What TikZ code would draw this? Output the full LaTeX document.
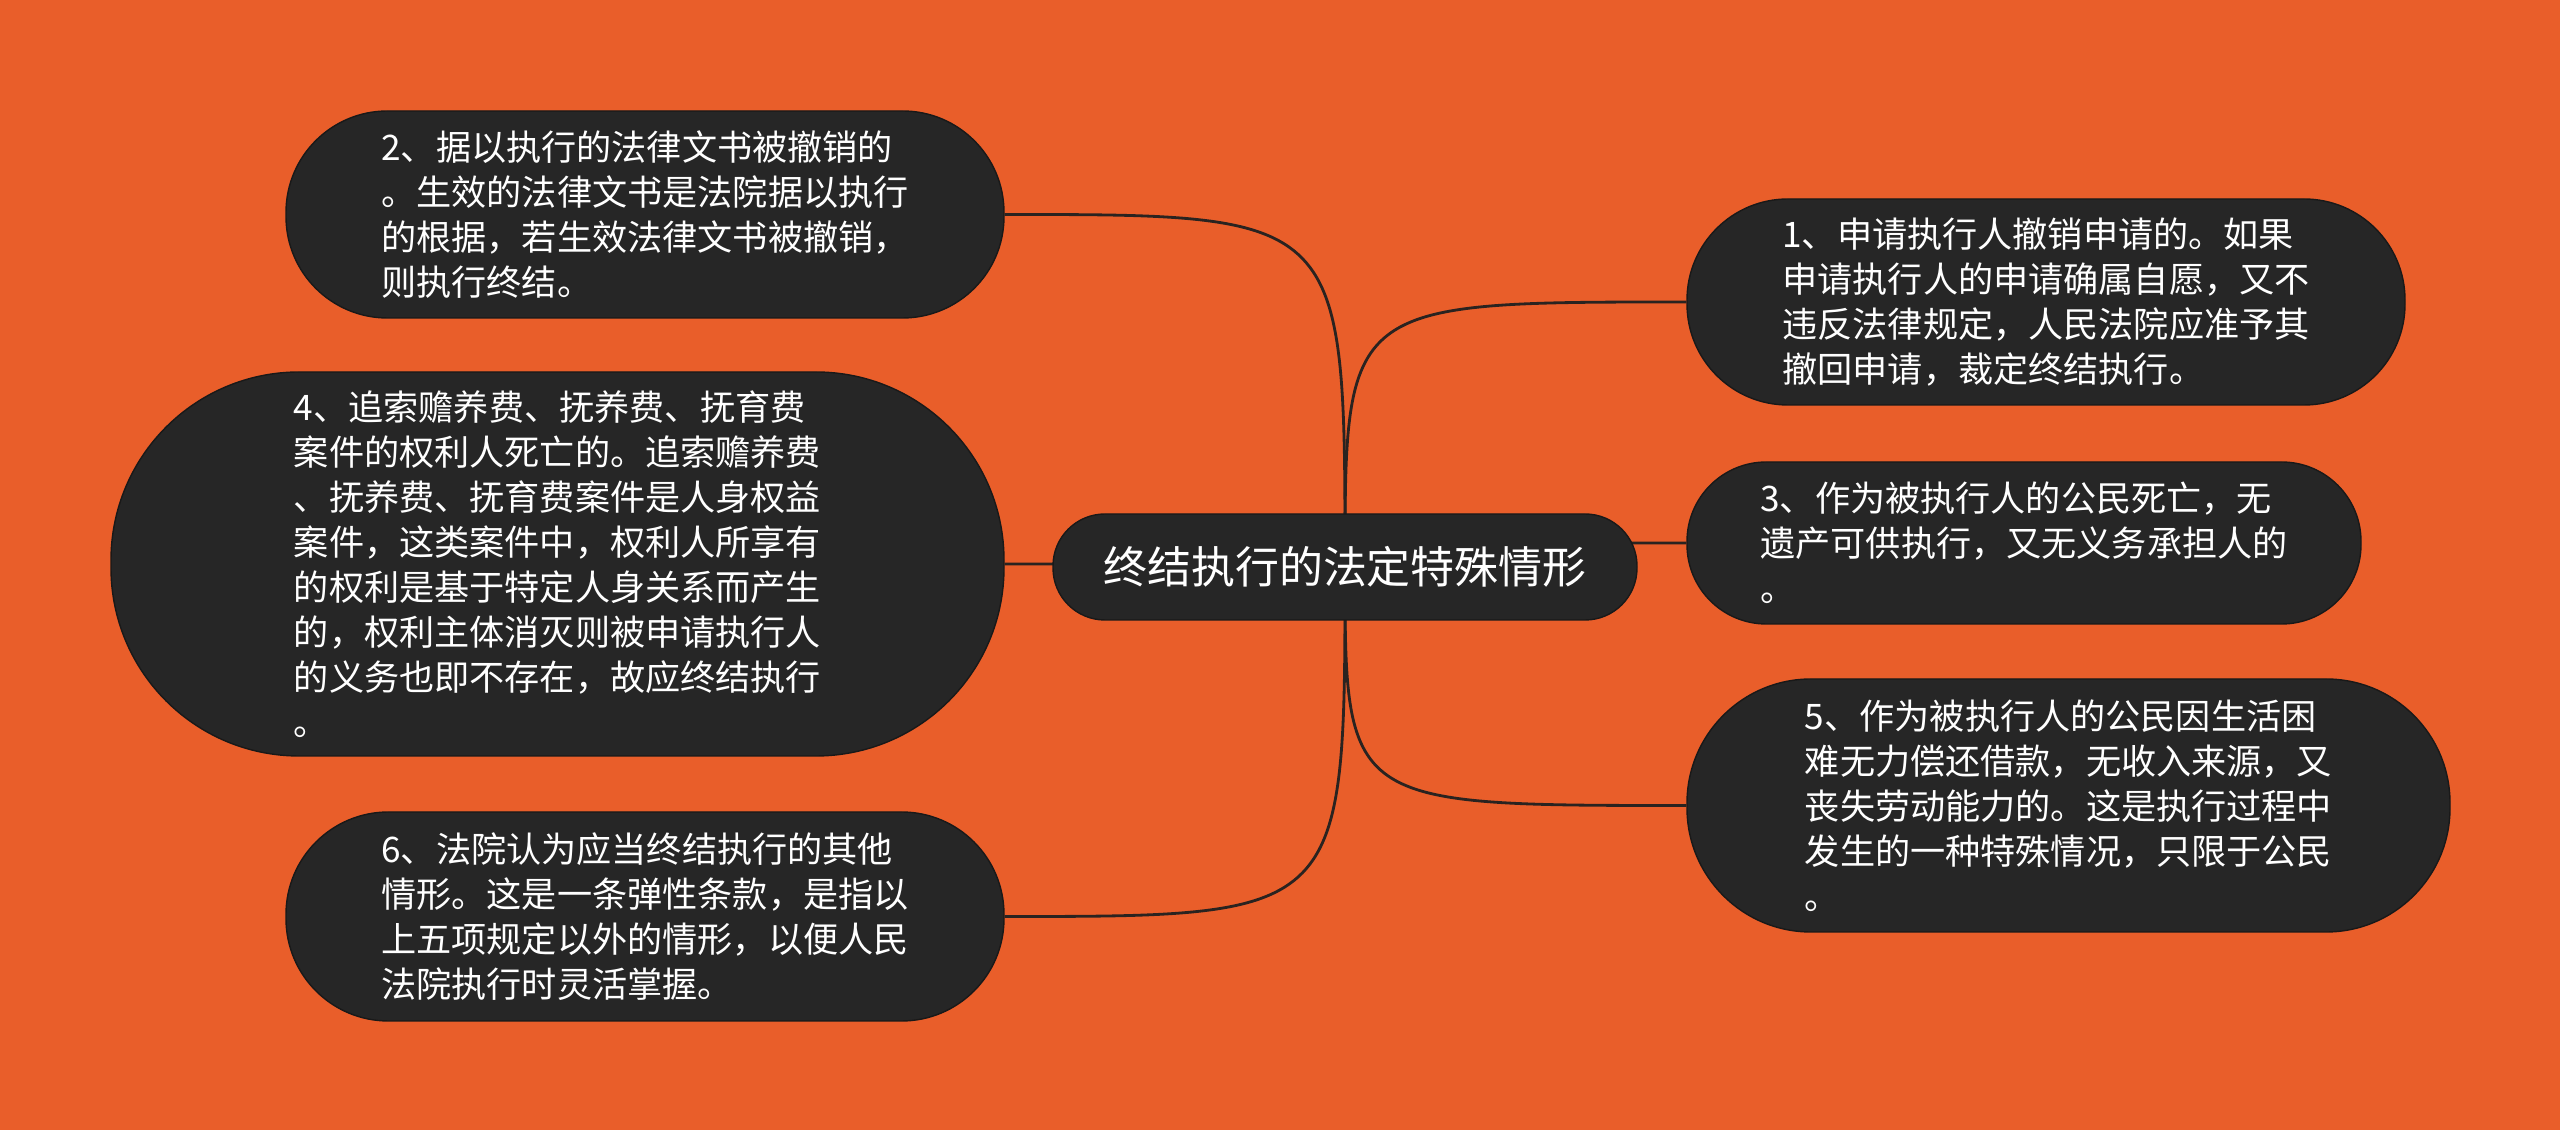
\documentclass[tikz,border=0pt]{standalone}
\usepackage{fontspec}
\setmainfont{Noto Sans CJK SC}
\definecolor{bgorange}{HTML}{E95E2A}
\definecolor{boxgray}{HTML}{262626}
\definecolor{linkgray}{HTML}{2A2320}
\pgfdeclarelayer{bg}
\pgfsetlayers{bg,main}
\tikzset{
  pill/.style 2 args={rectangle, fill=boxgray, draw=black!90, line width=0.4pt,
    minimum width=#1cm, minimum height=#2cm, rounded corners=0.49*#2cm,
    text=white, align=left, inner sep=0pt, font=\fontsize{10}{12.8}\selectfont},
  link/.style={draw=linkgray, line width=0.8pt}
}
\begin{document}
\begin{tikzpicture}
\useasboundingbox (0,0) rectangle (25.6,-11.3);
\begin{pgfonlayer}{bg}
\fill[bgorange] (0,0) rectangle (25.6,-11.3);
\end{pgfonlayer}

% central topic
\node[pill={5.84}{1.06}, align=center, font=\fontsize{12.5}{14}\selectfont] (root) at (13.45,-5.67) {终结执行的法定特殊情形};

% left branches
\node[pill={7.18}{2.07}] (n2) at (6.45,-2.145) {2、据以执行的法律文书被撤销的\\。生效的法律文书是法院据以执行\\的根据，若生效法律文书被撤销，\\则执行终结。};
\node[pill={8.93}{3.84}] (n4) at (5.575,-5.64) {4、追索赡养费、抚养费、抚育费\\案件的权利人死亡的。追索赡养费\\、抚养费、抚育费案件是人身权益\\案件，这类案件中，权利人所享有\\的权利是基于特定人身关系而产生\\的，权利主体消灭则被申请执行人\\的义务也即不存在，故应终结执行\\。};
\node[pill={7.18}{2.09}] (n6) at (6.45,-9.165) {6、法院认为应当终结执行的其他\\情形。这是一条弹性条款，是指以\\上五项规定以外的情形，以便人民\\法院执行时灵活掌握。};

% right branches
\node[pill={7.18}{2.06}] (n1) at (20.46,-3.02) {1、申请执行人撤销申请的。如果\\申请执行人的申请确属自愿，又不\\违反法律规定，人民法院应准予其\\撤回申请，裁定终结执行。};
\node[pill={6.74}{1.62}] (n3) at (20.24,-5.43) {3、作为被执行人的公民死亡，无\\遗产可供执行，又无义务承担人的\\。};
\node[pill={7.63}{2.53}] (n5) at (20.685,-8.055) {5、作为被执行人的公民因生活困\\难无力偿还借款，无收入来源，又\\丧失劳动能力的。这是执行过程中\\发生的一种特殊情况，只限于公民\\。};

% connectors, kept under the boxes
\begin{pgfonlayer}{bg}
\foreach \leaf in {n2,n4,n6}
  \draw[link] (root.center) .. controls (root.center |- \leaf.east) .. (\leaf.east);
\foreach \leaf in {n1,n3,n5}
  \draw[link] (root.center) .. controls (root.center |- \leaf.west) .. (\leaf.west);
\end{pgfonlayer}

\end{tikzpicture}
\end{document}
